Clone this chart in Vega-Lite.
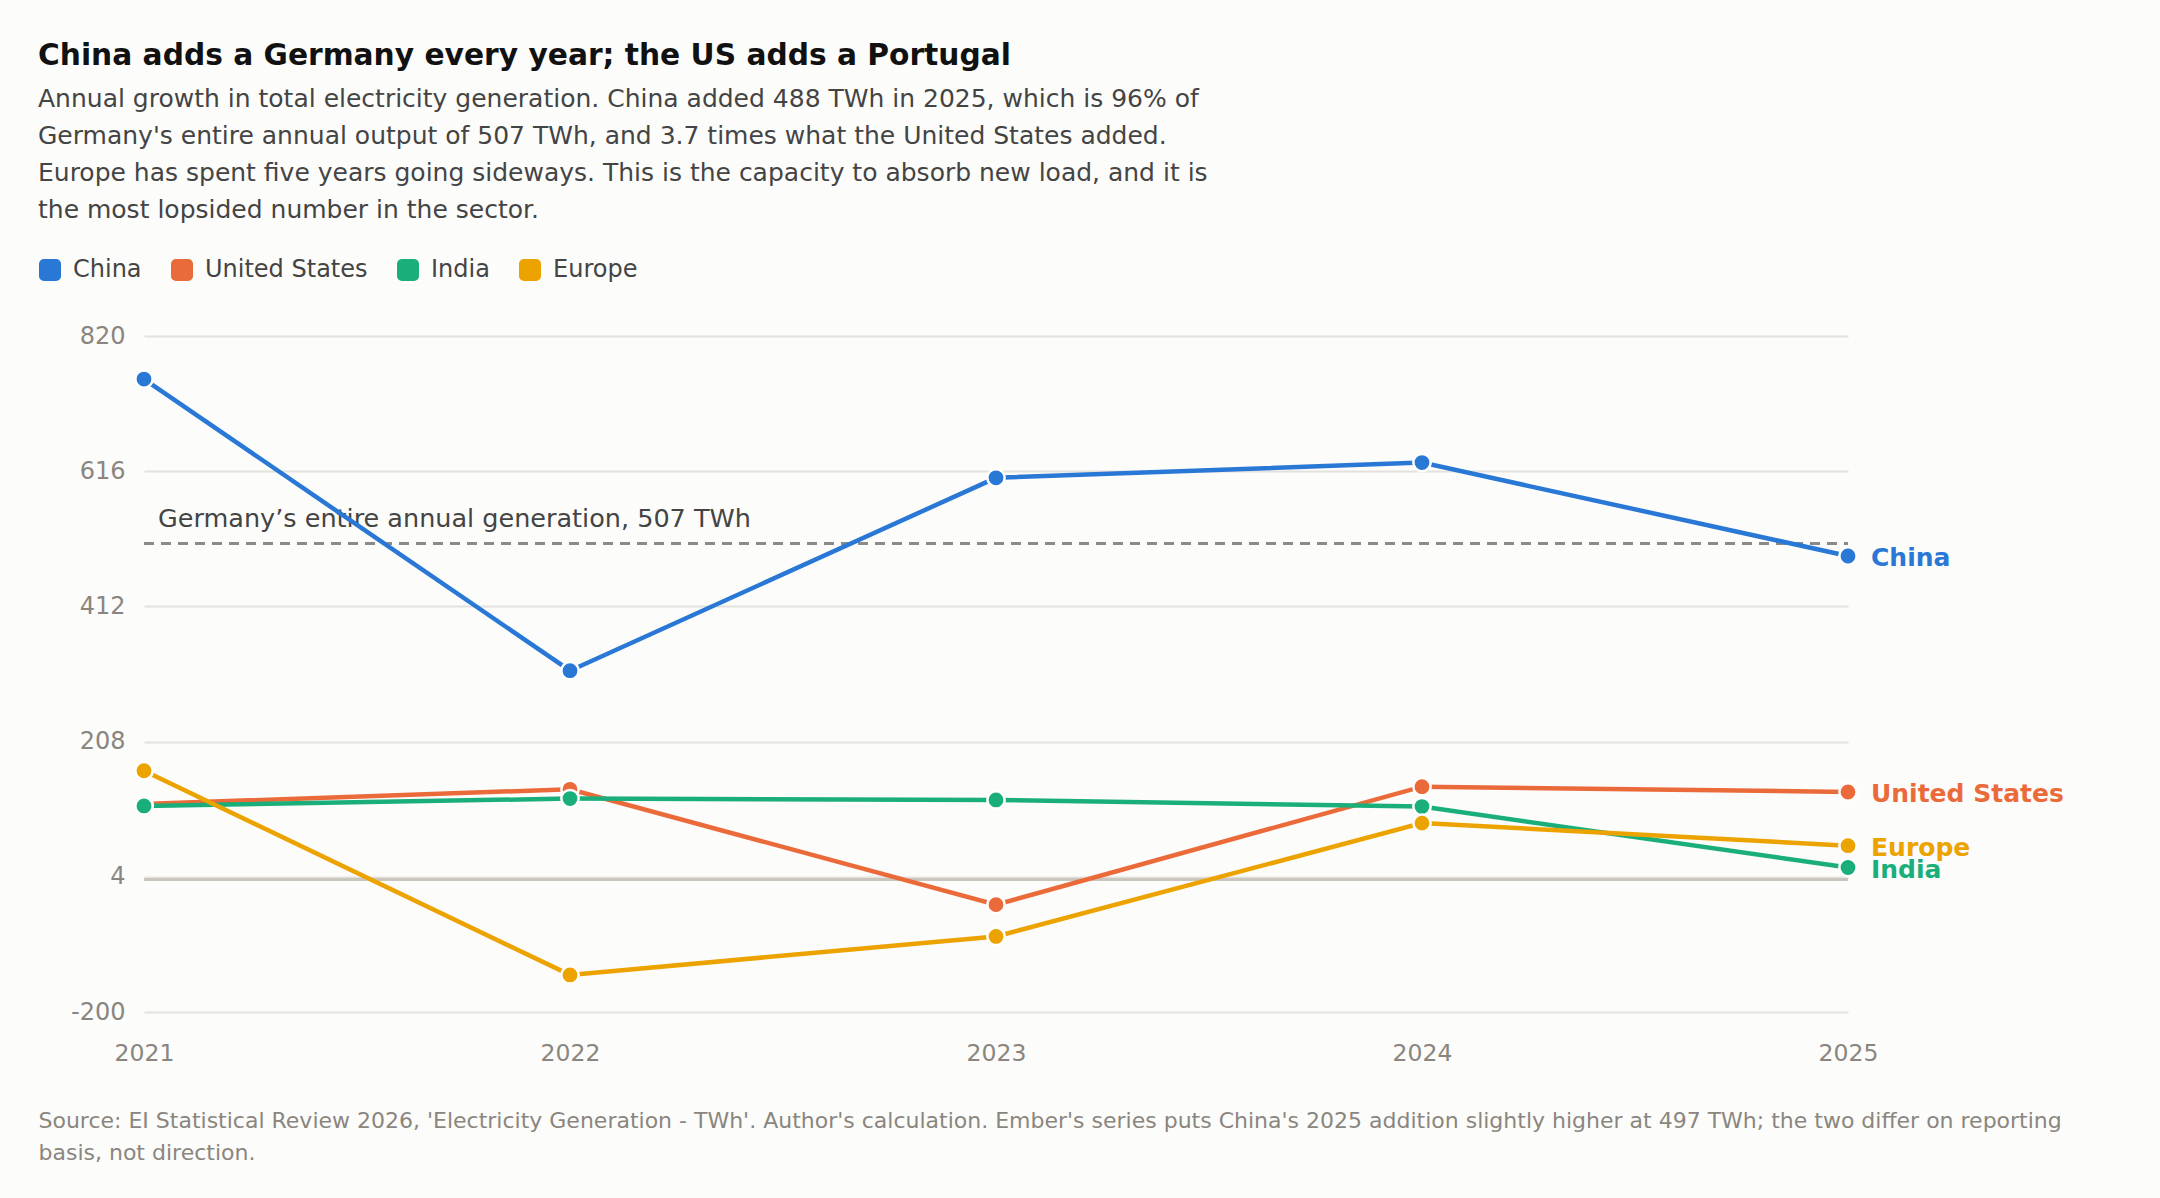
{
  "$schema": "https://vega.github.io/schema/vega-lite/v6.json",
  "autosize": {"type": "none"},
  "width": 1704,
  "height": 676,
  "padding": {"left": 144, "top": 336, "right": 312, "bottom": 186},
  "background": "#fcfcfa",
  "title": {
    "text": "China adds a Germany every year; the US adds a Portugal",
    "subtitle": [
      "Annual growth in total electricity generation. China added 488 TWh in 2025, which is 96% of",
      "Germany's entire annual output of 507 TWh, and 3.7 times what the United States added.",
      "Europe has spent five years going sideways. This is the capacity to absorb new load, and it is",
      "the most lopsided number in the sector."
    ],
    "anchor": "start",
    "frame": "group",
    "dx": -106,
    "offset": 34
  },
  "datasets": {
    "growth": [
      {"series": "China", "year": 2021, "twh": 755},
      {"series": "China", "year": 2022, "twh": 315},
      {"series": "China", "year": 2023, "twh": 606},
      {"series": "China", "year": 2024, "twh": 629},
      {"series": "China", "year": 2025, "twh": 488},
      {"series": "United States", "year": 2021, "twh": 114},
      {"series": "United States", "year": 2022, "twh": 136},
      {"series": "United States", "year": 2023, "twh": -38},
      {"series": "United States", "year": 2024, "twh": 140},
      {"series": "United States", "year": 2025, "twh": 132},
      {"series": "India", "year": 2021, "twh": 111},
      {"series": "India", "year": 2022, "twh": 122},
      {"series": "India", "year": 2023, "twh": 120},
      {"series": "India", "year": 2024, "twh": 110},
      {"series": "India", "year": 2025, "twh": 18},
      {"series": "Europe", "year": 2021, "twh": 164},
      {"series": "Europe", "year": 2022, "twh": -144},
      {"series": "Europe", "year": 2023, "twh": -86},
      {"series": "Europe", "year": 2024, "twh": 85},
      {"series": "Europe", "year": 2025, "twh": 51}
    ]
  },
  "encoding": {
    "x": {
      "field": "year",
      "type": "quantitative",
      "scale": {"domain": [2021, 2025], "nice": false, "zero": false},
      "axis": {
        "values": [2021, 2022, 2023, 2024, 2025],
        "format": "d",
        "grid": false,
        "domain": false,
        "ticks": false,
        "labelFlush": false,
        "labelBound": false,
        "labelOverlap": false,
        "labelPadding": 29,
        "labelFontSize": 23.5,
        "labelColor": "#8a867f",
        "title": [
          "Source: EI Statistical Review 2026, 'Electricity Generation - TWh'. Author's calculation. Ember's series puts China's 2025 addition slightly higher at 497 TWh; the two differ on reporting",
          "basis, not direction."
        ],
        "titleAnchor": "start",
        "titleAlign": "left",
        "titleBaseline": "alphabetic",
        "titleX": -106,
        "titleY": 115,
        "titleFontSize": 22,
        "titleFontWeight": "normal",
        "titleColor": "#8a867f",
        "titleLineHeight": 32
      }
    },
    "y": {
      "field": "twh",
      "type": "quantitative",
      "scale": {"domain": [-200, 820], "nice": false, "zero": false},
      "axis": {
        "values": [-200, 4, 208, 412, 616, 820],
        "labelExpr": "replace(datum.label, '−', '-')",
        "domain": false,
        "ticks": false,
        "labelPadding": 19,
        "labelFontSize": 24,
        "labelColor": "#8a867f",
        "gridColor": "#e4e2dc",
        "gridWidth": 2,
        "title": null
      }
    }
  },
  "layer": [
    {
      "data": {"values": [{"twh": 0}]},
      "mark": {"type": "rule", "color": "#c9c7bd", "strokeWidth": 3},
      "encoding": {"x": null}
    },
    {
      "data": {"values": [{"year": 2021, "year2": 2025, "twh": 507, "note": "Germany’s entire annual generation, 507 TWh"}]},
      "layer": [
        {
          "mark": {"type": "rule", "color": "#8a8a86", "strokeWidth": 3, "strokeDash": [10, 7]},
          "encoding": {"x2": {"field": "year2"}}
        },
        {
          "mark": {"type": "text", "align": "left", "baseline": "alphabetic", "dx": 14, "dy": -16, "fontSize": 25.5, "color": "#444444"},
          "encoding": {"text": {"field": "note"}}
        }
      ]
    },
    {
      "data": {"name": "growth"},
      "mark": {"type": "line", "strokeWidth": 4.5},
      "encoding": {
        "color": {"field": "series", "type": "nominal"}
      }
    },
    {
      "data": {"name": "growth"},
      "mark": {"type": "point", "filled": true, "opacity": 1, "size": 300, "stroke": "#ffffff", "strokeWidth": 2.5},
      "encoding": {
        "color": {
          "field": "series",
          "type": "nominal",
          "scale": {
            "domain": ["China", "United States", "India", "Europe"],
            "range": ["#2a78d6", "#eb6a3a", "#1aaf7a", "#eca300"]
          },
          "legend": {
            "orient": "none",
            "direction": "horizontal",
            "legendX": -106,
            "legendY": -78,
            "title": null,
            "symbolType": "M-0.55,-1 L0.55,-1 A0.45,0.45 0 0 1 1,-0.55 L1,0.55 A0.45,0.45 0 0 1 0.55,1 L-0.55,1 A0.45,0.45 0 0 1 -1,0.55 L-1,-0.55 A0.45,0.45 0 0 1 -0.55,-1 Z",
            "symbolSize": 484,
            "symbolStrokeWidth": 0,
            "symbolOpacity": 1,
            "labelFontSize": 24,
            "labelLimit": 400,
            "labelColor": "#444444",
            "labelOffset": 11,
            "columnPadding": 28
          }
        }
      }
    },
    {
      "data": {"name": "growth"},
      "transform": [{"filter": "datum.year == 2025"}],
      "mark": {"type": "text", "align": "left", "baseline": "middle", "dx": 23, "dy": 2, "fontSize": 25, "fontWeight": "bold"},
      "encoding": {
        "text": {"field": "series"},
        "color": {"field": "series", "type": "nominal"}
      }
    }
  ],
  "config": {
    "font": "DejaVu Sans",
    "view": {"stroke": null},
    "title": {
      "fontSize": 29.7,
      "fontWeight": "bold",
      "color": "#111111",
      "subtitleFontSize": 25,
      "subtitleColor": "#444444",
      "subtitleLineHeight": 37,
      "subtitlePadding": 15
    }
  }
}
